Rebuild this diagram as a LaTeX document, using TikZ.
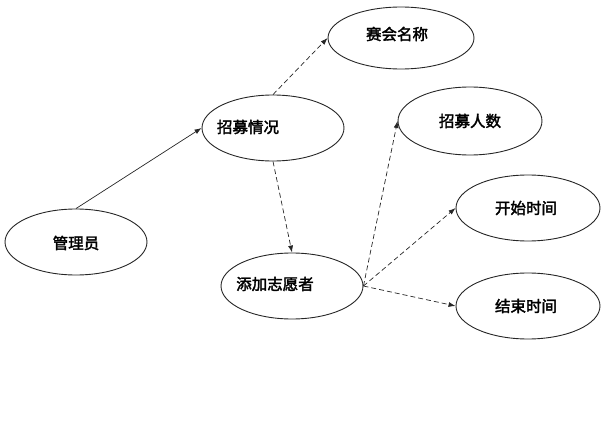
\documentclass[tikz,border=0pt]{standalone}
\usepackage{fontspec}
\setmainfont{Noto Sans CJK SC}
\newfontfamily\cjkb{Noto Sans CJK SC}[FakeBold=2.2]
\usetikzlibrary{shapes.geometric,arrows.meta}
\tikzset{
  oval/.style={ellipse,draw=black!85,line width=0.9pt,fill=white,minimum width=142pt,minimum height=66pt,inner sep=0pt},
  lbl/.style={font=\fontsize{15.5pt}{16pt}\cjkb,inner sep=0pt},
  tip/.style={-{Latex[length=7pt,width=5pt]}},
  solidarrow/.style={tip,line width=0.7pt,draw=black!85},
  dasharrow/.style={tip,line width=0.7pt,draw=black!85,dash pattern=on 5pt off 3pt}
}
\begin{document}
\begin{tikzpicture}[x=1pt,y=-1pt]
\useasboundingbox (0,0) rectangle (606,434);
\node[oval] (a) at (76,242) {};
\node[oval] (b) at (273,128) {};
\node[oval,minimum width=146pt,minimum height=62pt] (c) at (401,38) {};
\node[oval] (d) at (292,286) {};
\node[oval,minimum width=144pt,minimum height=68pt] (e) at (470,121) {};
\node[oval,minimum width=144pt] (f) at (528,208) {};
\node[oval,minimum width=144pt] (g) at (528,306) {};
\node[lbl] (ta) at (76,243) {管理员};
\node[lbl] (tb) at (248,127) {招募情况};
\node[lbl] (tc) at (397,34) {赛会名称};
\node[lbl] (td) at (275,284) {添加志愿者};
\node[lbl] (te) at (470,121) {招募人数};
\node[lbl] (tf) at (526,208) {开始时间};
\node[lbl] (tg) at (526,306) {结束时间};
\draw[solidarrow] (a.north) -- (b.west);
\draw[dasharrow] (b.north) -- (c.west);
\draw[dasharrow] (b.south) -- (d.north);
\draw[dasharrow] (d.east) -- (e.west);
\draw[dasharrow] (d.east) -- (f.west);
\draw[dasharrow] (d.east) -- (g.west);
\end{tikzpicture}
\end{document}
